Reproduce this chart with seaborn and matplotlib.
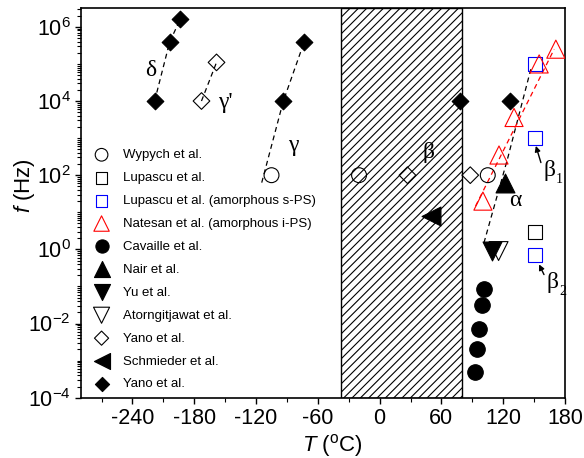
import numpy as np
import matplotlib
matplotlib.use("Agg")
import matplotlib.pyplot as plt
import matplotlib.ticker as mticker
import seaborn as sns

# ---------------- data ----------------
wyp_T = [-105, -20, 105]
wyp_f = [100, 100, 100]
lup_T = [151]
lup_f = [3]
lupa_T = [151, 151, 151]
lupa_f = [1e5, 1e3, 0.7]
nat_T = [100.3, 115.9, 130.5, 154.9, 171.1]
nat_f = [20, 350, 3600, 1e5, 2.5e5]
cav_T = [101.3, 99.0, 96.5, 94.9, 92.2]
cav_f = [0.083, 0.031, 0.0072, 0.0021, 0.00048]
nair_T = [121.5]
nair_f = [60]
yu_T = [109]
yu_f = [0.9]
ator_T = [115.5]
ator_f = [0.9]
yano_open_T = [-173, -158.4, 27, 88]
yano_open_f = [1e4, 1.1e5, 100, 100]
sch_T = [49.5]
sch_f = [8]
yano_T = [-218.5, -203.9, -193.4, -93.5, -73.3, 78, 127]
yano_f = [1e4, 3.9e5, 1.65e6, 1e4, 3.9e5, 1e4, 1e4]

# dashed guide lines
delta_T = [-218.5, -203.9, -193.4]
delta_f = [1e4, 3.9e5, 1.65e6]
gammap_T = [-173, -158.4]
gammap_f = [1e4, 1.1e5]
gamma_T = [-114.5, -93.5, -73.3]
gamma_f = [63, 1e4, 3.9e5]
alpha_T = [101.3, 124.1, 146.8]
alpha_f = [1.5, 270, 7.2e4]
red_T = [93.2, 169.5]
red_f = [14.8, 2.5e5]

hatch_T = [-38, 80]

legend_labels = ["Wypych et al.", "Lupascu et al.", "Lupascu et al. (amorphous s-PS)",
                 "Natesan et al. (amorphous i-PS)", "Cavaille et al.", "Nair et al.",
                 "Yu et al.", "Atorngitjawat et al.", "Yano et al.", "Schmieder et al.",
                 "Yano et al."]

xticks = [-240, -180, -120, -60, 0, 60, 120, 180]

# ---------------- style ----------------
sns.set_theme(style="ticks")
plt.rcParams["font.family"] = ["Liberation Sans", "DejaVu Sans"]
plt.rcParams["mathtext.fontset"] = "custom"
plt.rcParams["mathtext.rm"] = "Liberation Sans"
plt.rcParams["mathtext.it"] = "Liberation Sans:italic"
plt.rcParams["mathtext.bf"] = "Liberation Sans:bold"
plt.rcParams["mathtext.sf"] = "Liberation Sans"
plt.rcParams["hatch.linewidth"] = 0.8
plt.rcParams["axes.unicode_minus"] = False
for k in ["text.color", "axes.labelcolor", "xtick.color", "ytick.color",
          "xtick.labelcolor", "ytick.labelcolor", "axes.edgecolor"]:
    plt.rcParams[k] = "black"

fig = plt.figure(figsize=(5.84, 4.58), dpi=100)
ax = fig.add_axes([81/584, 1-397.7/458, (565-81)/584, (397.7-8.3)/458])

ax.set_yscale("log")
ax.set_xlim(-290, 180)
ax.set_ylim(1e-4, 10**6.5)

ax.axvspan(hatch_T[0], hatch_T[1], facecolor="white", edgecolor="black",
           hatch="////", linewidth=1.0, zorder=1)

dash = (0, (4, 3))
for T, f, c in [(delta_T, delta_f, "black"), (gammap_T, gammap_f, "black"),
                (gamma_T, gamma_f, "black"), (alpha_T, alpha_f, "black"),
                (red_T, red_f, "red")]:
    sns.lineplot(x=T, y=f, ax=ax, color=c, linestyle=dash, linewidth=0.9,
                 sort=False, estimator=None, zorder=2, legend=False)

lw = 0.8
series = [
    (wyp_T, wyp_f, "o", 115, "none", "black"),
    (lup_T, lup_f, "s", 100, "none", "black"),
    (lupa_T, lupa_f, "s", 100, "none", "blue"),
    (nat_T, nat_f, "^", 170, "none", "red"),
    (cav_T, cav_f, "o", 125, "black", "black"),
    (nair_T, nair_f, "^", 185, "black", "black"),
    (yu_T, yu_f, "v", 185, "black", "black"),
    (ator_T, ator_f, "v", 185, "none", "black"),
    (yano_open_T, yano_open_f, "D", 72, "none", "black"),
    (sch_T, sch_f, "<", 185, "black", "black"),
    (yano_T, yano_f, "D", 72, "black", "black"),
]
handles = []
for (T, f, m, s, fc, ec), lab in zip(series, legend_labels):
    sns.scatterplot(x=T, y=f, ax=ax, marker=m, s=s, color=ec, facecolor=fc,
                    edgecolor=ec, linewidth=lw, zorder=3, label=lab)
    handles.append(ax.collections[-1])

leg = ax.legend(handles, legend_labels, loc="upper left",
                bbox_to_anchor=(91/584, 1-149/458), bbox_transform=fig.transFigure,
                frameon=False, fontsize=9.5, borderpad=0, borderaxespad=0,
                handlelength=1.6, handletextpad=0.8, labelspacing=0.81,
                scatterpoints=1, markerscale=0.85)
for t in leg.get_texts():
    t.set_color("black")

# greek labels
serif = dict(family=["Liberation Serif", "DejaVu Serif"], fontsize=17, ha="center",
             va="center", color="black")
ax.text(-222.6, 10**4.82, "δ", **serif)
ax.text(-150.3, 10**3.96, "γ'", **serif)
ax.text(-83.8, 10**2.79, "γ", **serif)
ax.text(47.4, 10**2.62, "β", **serif)
ax.text(132.2, 10**1.31, "α", **serif)
for T, lf, sub in [(164.6, 2.12, "1"), (167.9, -0.9, "2")]:
    ax.text(T, 10**lf, "β", **serif)
    ax.annotate(sub, xy=(T, 10**lf), xytext=(5, -6), textcoords="offset points",
                fontsize=10, family=["Liberation Serif", "DejaVu Serif"],
                ha="left", va="center", color="black")
for (t0, l0, t1, l1) in [(156.6, 2.34, 151.7, 2.79), (159.6, -0.68, 154.8, -0.405)]:
    ax.annotate("", xy=(t1, 10**l1), xytext=(t0, 10**l0),
                arrowprops=dict(arrowstyle="-|>", color="black", lw=1.0,
                                mutation_scale=8, shrinkA=0, shrinkB=0))

# ticks
ax.xaxis.set_major_locator(mticker.FixedLocator(xticks))
ax.xaxis.set_minor_locator(mticker.MultipleLocator(30))
ax.set_xticklabels([str(t) for t in xticks])
ax.yaxis.set_major_locator(mticker.FixedLocator([10.0**k for k in range(-4, 7, 2)]))
ax.yaxis.set_major_formatter(mticker.LogFormatterMathtext())
ax.yaxis.set_minor_locator(mticker.LogLocator(base=10, subs=np.arange(1, 10), numticks=30))
ax.yaxis.set_minor_formatter(mticker.NullFormatter())
ax.tick_params(axis="both", which="major", direction="out", length=4.5, width=1.0,
               labelsize=15.5, color="black", labelcolor="black", pad=3)
ax.tick_params(axis="both", which="minor", direction="out", length=3, width=0.8, color="black")
ax.tick_params(top=False, right=False, which="both")

for sp in ax.spines.values():
    sp.set_visible(True)
    sp.set_color("black")
    sp.set_linewidth(1.2)

ax.set_xlabel(r"$T$ ($^{\mathrm{o}}$C)", fontsize=16, labelpad=0, color="black")
ax.set_ylabel(r"$f$ (Hz)", fontsize=16, labelpad=2, color="black")
ax.yaxis.set_label_coords(-0.09, 0.546)
ax.xaxis.set_label_coords(0.519, -0.088)

fig.savefig("out.png", dpi=100)
